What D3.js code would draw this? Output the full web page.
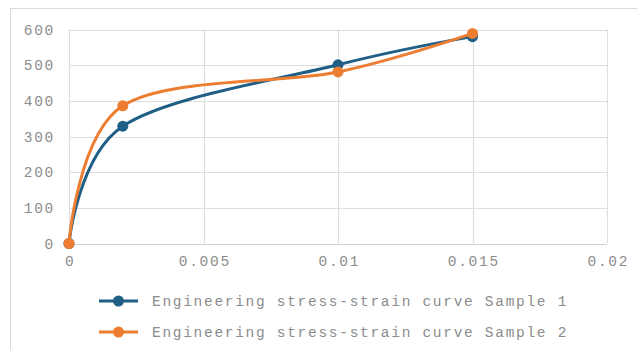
<!DOCTYPE html>
<html>
<head>
<meta charset="utf-8">
<script src="https://cdn.jsdelivr.net/npm/d3@7"></script>
<style>
  html, body { margin: 0; padding: 0; background: #fff; }
  svg { display: block; }
  text { font-family: "Liberation Mono", "Courier New", monospace; fill: #8c8c8c; }
</style>
</head>
<body>
<svg id="chart" width="637" height="350"></svg>
<script>
// Strain values (x) and stress values (y) for each sample
const strain = [0, 0.002, 0.01, 0.015];
const stressSample1 = [0, 329, 501, 580];
const stressSample2 = [0, 386, 481, 589];
const seriesNames = [
  "Engineering stress-strain curve Sample 1",
  "Engineering stress-strain curve Sample 2"
];
const seriesColors = ["#1f5f86", "#ed7d31"];
const xTicks = [0, 0.005, 0.01, 0.015, 0.02];
const yTicks = [0, 100, 200, 300, 400, 500, 600];

const svg = d3.select("#chart");
const W = 637, H = 350;
const FONT = "14.5px";
const SPACING = "1.7px";

// outer chart frame
svg.append("rect")
  .attr("x", 10.5).attr("y", 8.5)
  .attr("width", W).attr("height", H)
  .attr("fill", "none").attr("stroke", "#d9d9d9").attr("stroke-width", 1);

const x = d3.scaleLinear().domain([0, 0.02]).range([69, 607]);
const y = d3.scaleLinear().domain([0, 600]).range([243.5, 29.5]);

// gridlines
const grid = svg.append("g");
grid.selectAll("line.h").data(yTicks).join("line")
  .attr("class", "h")
  .attr("x1", x(0)).attr("x2", x(0.02))
  .attr("y1", d => Math.round(y(d)) + 0.5).attr("y2", d => Math.round(y(d)) + 0.5)
  .attr("stroke", d => d === 0 ? "#cfcfcf" : "#dedede").attr("stroke-width", 1.2);
grid.selectAll("line.v").data(xTicks).join("line")
  .attr("class", "v")
  .attr("y1", y(0)).attr("y2", y(600))
  .attr("x1", d => Math.round(x(d)) + 0.5).attr("x2", d => Math.round(x(d)) + 0.5)
  .attr("stroke", "#dedede").attr("stroke-width", 1.2);

// axes (labels only; lines come from the grid)
const xAxis = d3.axisBottom(x).tickValues(xTicks).tickSize(0).tickPadding(12)
  .tickFormat(d => d === 0 ? "0" : String(+d.toFixed(3)));
const gx = svg.append("g").attr("transform", `translate(0,${y(0)})`).call(xAxis);
gx.select(".domain").remove();
gx.selectAll("text")
  .style("font-size", FONT).style("letter-spacing", SPACING)
  .attr("dx", "0.8px").attr("fill", "#8c8c8c");

const yAxis = d3.axisLeft(y).tickValues(yTicks).tickSize(0).tickPadding(14);
const gy = svg.append("g").attr("transform", `translate(${x(0)},0)`).call(yAxis);
gy.select(".domain").remove();
gy.selectAll("text")
  .style("font-size", FONT).style("letter-spacing", SPACING)
  .attr("fill", "#8c8c8c");

// series
const series = [stressSample1, stressSample2].map((vals, i) => ({
  name: seriesNames[i],
  color: seriesColors[i],
  points: strain.map((s, j) => ({ x: s, y: vals[j] }))
}));

const line = d3.line()
  .x(d => x(d.x)).y(d => y(d.y))
  .curve(d3.curveCardinal.tension(0));

series.forEach(s => {
  const g = svg.append("g");
  g.append("path")
    .attr("d", line(s.points))
    .attr("fill", "none").attr("stroke", s.color)
    .attr("stroke-width", 3).attr("stroke-linecap", "round");
  g.selectAll("circle").data(s.points).join("circle")
    .attr("cx", d => x(d.x)).attr("cy", d => y(d.y))
    .attr("r", 5.5).attr("fill", s.color);
});

// legend
const legend = svg.append("g");
series.forEach((s, i) => {
  const ly = 301 + i * 31;
  legend.append("line")
    .attr("x1", 99).attr("x2", 138).attr("y1", ly).attr("y2", ly)
    .attr("stroke", s.color).attr("stroke-width", 3);
  legend.append("circle")
    .attr("cx", 118.5).attr("cy", ly).attr("r", 5.5).attr("fill", s.color);
  legend.append("text")
    .attr("x", 152).attr("y", ly).attr("dy", "0.35em")
    .style("font-size", FONT).style("letter-spacing", SPACING)
    .text(s.name);
});
</script>
</body>
</html>
